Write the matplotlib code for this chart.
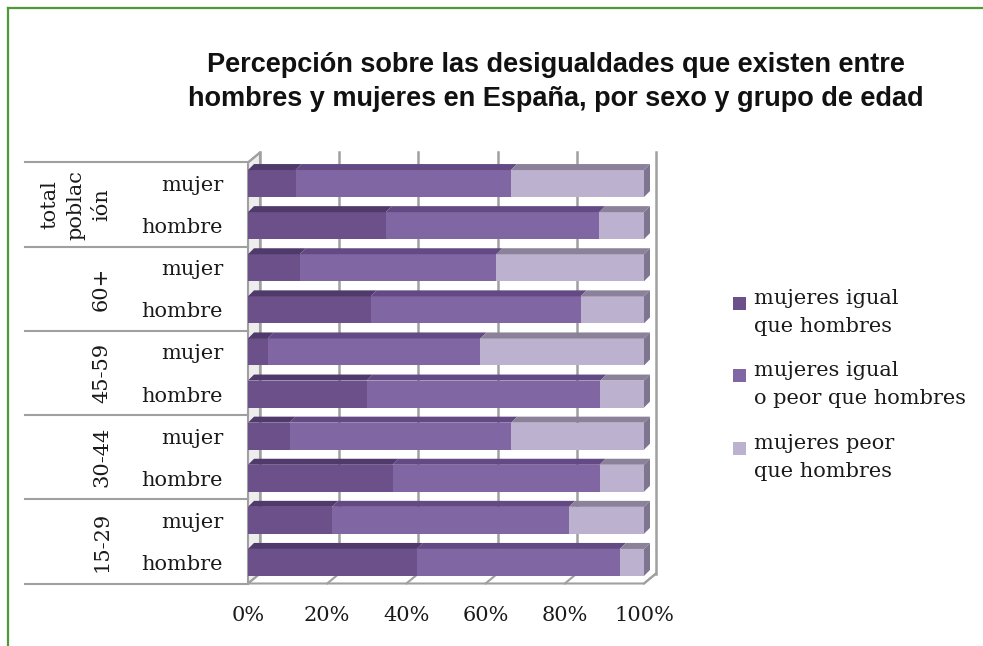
import numpy as np
import matplotlib.pyplot as plt
from matplotlib.patches import Polygon, Rectangle

# datos (porcentajes)
grupos = ['total\npoblac\nión', '60+', '45-59', '30-44', '15-29']
filas = ['mujer', 'hombre'] * 5
igual = [12.0, 34.8, 13.1, 31.0, 5.0, 30.0, 10.5, 36.5, 21.2, 42.6]
igual_o_peor = [54.4, 53.9, 49.6, 53.0, 53.7, 59.0, 56.0, 52.3, 59.9, 51.3]
peor = [33.6, 11.3, 37.3, 16.0, 41.3, 11.0, 33.5, 11.2, 18.9, 6.1]
series = ['mujeres igual\nque hombres', 'mujeres igual\no peor que hombres', 'mujeres peor\nque hombres']
ticks = [0, 20, 40, 60, 80, 100]

col_frente = ['#6b5089', '#8067a3', '#bcb2cf']
col_arriba = ['#4f3a6b', '#634a84', '#8b8199']
col_lado = '#7e7690'
gris = '#a0a0a0'
serif = 'DejaVu Serif'

fig = plt.figure(figsize=(9.83, 6.46), dpi=100)
W, H = 983, 646
ax = fig.add_axes([248 / W, (646 - 583.5) / H, 396 / W, 421 / H])
ax.set_xlim(0, 100)
ax.set_ylim(9.5, -0.5)
for s in ax.spines.values():
    s.set_visible(False)

# profundidad 3D en unidades de datos
px_x = 396 / 100.0
px_y = 421 / 10.0
fdx, fdy = 12 / px_x, 10 / px_y   # pared del fondo
bdx, bdy = 6 / px_x, 6 / px_y     # barras
alto = 27 / px_y

# pared izquierda y suelo
ax.add_patch(Polygon([(0, 9.5), (0, -0.5), (fdx, -0.5 - fdy), (fdx, 9.5 - fdy)],
                     closed=True, facecolor='#ededed', edgecolor=gris, lw=1.5,
                     zorder=1, clip_on=False))
for t in ticks:
    ax.plot([t + fdx, t + fdx], [-0.5 - fdy, 9.5 - fdy], color=gris, lw=1.8,
            zorder=1, clip_on=False)
    ax.plot([t + fdx, t], [9.5 - fdy, 9.5], color=gris, lw=1.5, zorder=1, clip_on=False)
ax.plot([0, 100, 100 + fdx], [9.5, 9.5, 9.5 - fdy], color=gris, lw=1.5,
        zorder=1, clip_on=False)

# barras apiladas
y = np.arange(len(filas))
datos = [igual, igual_o_peor, peor]
izq = np.zeros(len(filas))
for k, vals in enumerate(datos):
    vals = np.array(vals)
    ax.barh(y, vals, left=izq, height=alto, color=col_frente[k], zorder=3)
    for yi, l, w in zip(y, izq, vals):
        top = yi - alto / 2
        ax.add_patch(Polygon([(l, top), (l + w, top), (l + w + bdx, top - bdy), (l + bdx, top - bdy)],
                             closed=True, facecolor=col_arriba[k], edgecolor='none',
                             zorder=3, clip_on=False))
        if k == len(datos) - 1:
            r = l + w
            ax.add_patch(Polygon([(r, top), (r, top + alto), (r + bdx, top + alto - bdy), (r + bdx, top - bdy)],
                                 closed=True, facecolor=col_lado, edgecolor='none',
                                 zorder=3, clip_on=False))
    izq = izq + vals

# tabla de la izquierda
x_tabla = -(248 - 25) / px_x
for b in np.arange(-0.5, 10, 2):
    ax.plot([x_tabla, 0], [b, b], color=gris, lw=1.5, clip_on=False, zorder=1)
ax.plot([0, fdx], [-0.5, -0.5 - fdy], color=gris, lw=1.5, clip_on=False, zorder=1)
for g, nombre in enumerate(grupos):
    ax.text(-(248 - 111) / px_x, 2 * g + 0.5, nombre, rotation=90, ha='right', va='center',
            multialignment='center', fontsize=15, family=serif, color='#1a1a1a',
            linespacing=1.45)

ax.set_yticks(y, filas)
ax.tick_params(axis='y', length=0, pad=18, labelsize=15, labelcolor='#1a1a1a')
ax.set_xticks(ticks, [f'{t}%' for t in ticks])
ax.tick_params(axis='x', length=0, pad=16, labelsize=15, labelcolor='#1a1a1a')
for lab in ax.get_xticklabels() + ax.get_yticklabels():
    lab.set_family(serif)

# leyenda
for k, txt in enumerate(series):
    base = 304 + 72.5 * k
    fig.patches.append(Rectangle((733 / W, 1 - (base + 6) / H), 13 / W, 13 / H,
                                 transform=fig.transFigure, facecolor=col_frente[k],
                                 edgecolor='none'))
    for j, linea in enumerate(txt.split('\n')):
        fig.text(754 / W, 1 - (base + 28 * j) / H, linea, ha='left', va='baseline',
                 fontsize=15, family=serif, color='#1a1a1a')

# titulo
fig.text(556 / W, 1 - 82.5 / H,
         'Percepción sobre las desigualdades que existen entre\n'
         'hombres y mujeres en España, por sexo y grupo de edad',
         ha='center', va='center', fontsize=19.5, fontweight='bold',
         family='Liberation Sans', linespacing=1.4, color='#111111')

# marco verde
fig.add_artist(plt.Line2D([8 / W, 8 / W], [0, 1 - 8 / H], color='#4c9a3c', lw=1.6,
                          transform=fig.transFigure))
fig.add_artist(plt.Line2D([8 / W, 1], [1 - 8 / H, 1 - 8 / H], color='#4c9a3c', lw=1.6,
                          transform=fig.transFigure))

fig.savefig('out.png', dpi=100)
